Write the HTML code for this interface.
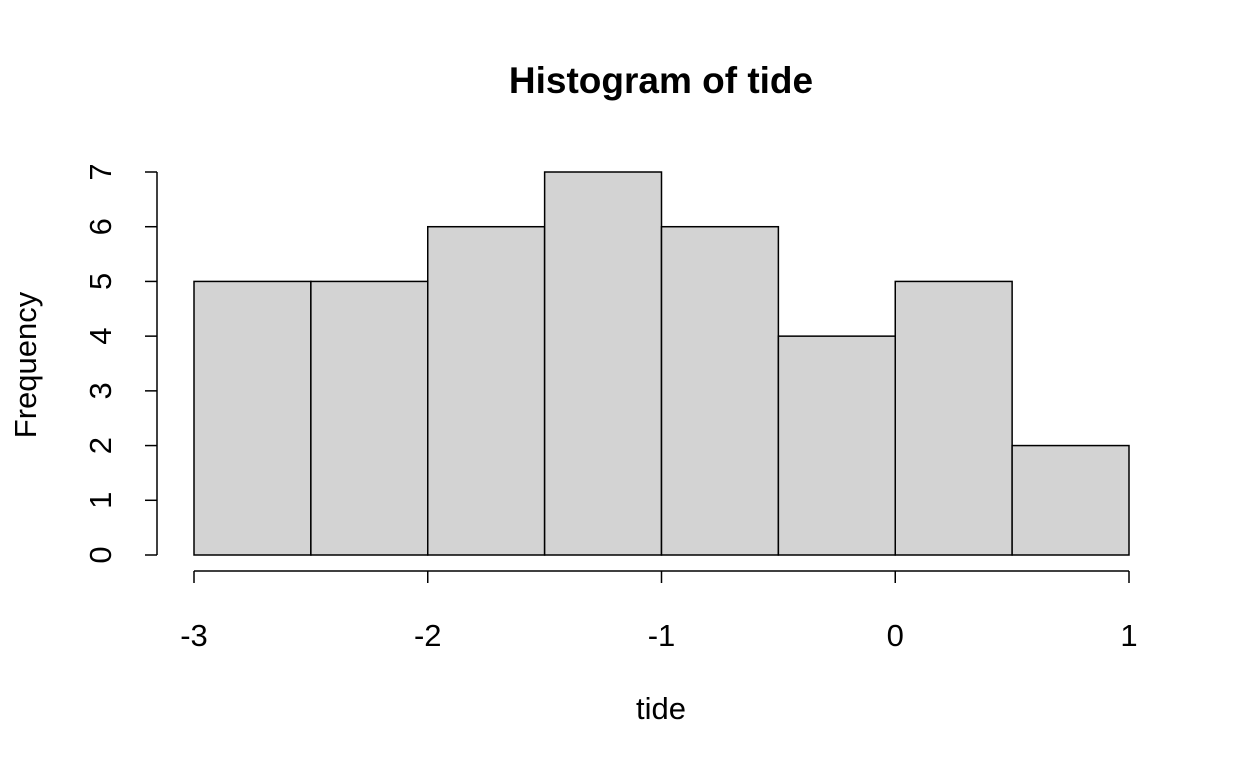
<!DOCTYPE html>
<html><head><meta charset="utf-8">
<style>
html,body{margin:0;padding:0;background:#fff;}
svg{display:block;font-family:"Liberation Sans",Arial,sans-serif;}
</style></head>
<body>
<svg id="chart" width="1248" height="768" viewBox="0 0 1248 768">
<text x="661" y="93" text-anchor="middle" font-size="37" font-weight="bold">Histogram of tide</text>
<text x="661" y="719" text-anchor="middle" font-size="31">tide</text>
<text transform="translate(36,365) rotate(-90)" text-anchor="middle" font-size="31">Frequency</text>
<g id="bars"></g>
<g id="xaxis"></g>
<g id="yaxis"></g>
</svg>
<script>
const binEdges = [-3, -2.5, -2, -1.5, -1, -0.5, 0, 0.5, 1];
const counts = [5, 5, 6, 7, 6, 4, 5, 2];
const xTicks = [-3, -2, -1, 0, 1];
const yTicks = [0, 1, 2, 3, 4, 5, 6, 7];

const NS = "http://www.w3.org/2000/svg";
const xs = v => 194 + (v - (-3)) * (1129 - 194) / 4;
const ys = v => 555 - v * (555 - 172) / 7;
function mk(tag, attrs, parent) {
  const e = document.createElementNS(NS, tag);
  for (const k in attrs) e.setAttribute(k, attrs[k]);
  parent.appendChild(e);
  return e;
}
const bars = document.getElementById('bars');
counts.forEach((c, i) => {
  const x0 = xs(binEdges[i]), x1 = xs(binEdges[i + 1]);
  const r = mk('rect', {x: x0, y: ys(c), width: x1 - x0, height: ys(0) - ys(c), fill: '#d3d3d3', stroke: '#000', 'stroke-width': 1.5}, bars);
  
  
});
const xa = document.getElementById('xaxis');
mk('line', {x1: xs(xTicks[0]), x2: xs(xTicks[xTicks.length - 1]), y1: 571, y2: 571, stroke: '#000', 'stroke-width': 1.5}, xa);
xTicks.forEach(t => {
  mk('line', {x1: xs(t), x2: xs(t), y1: 571, y2: 583, stroke: '#000', 'stroke-width': 1.5}, xa);
  const l = mk('text', {x: xs(t), y: 646, 'text-anchor': 'middle', 'font-size': 31}, xa);
  l.textContent = t;
  
  
});
const ya = document.getElementById('yaxis');
mk('line', {x1: 157, x2: 157, y1: ys(yTicks[0]), y2: ys(yTicks[yTicks.length - 1]), stroke: '#000', 'stroke-width': 1.5}, ya);
yTicks.forEach(t => {
  mk('line', {x1: 145, x2: 157, y1: ys(t), y2: ys(t), stroke: '#000', 'stroke-width': 1.5}, ya);
  const l = mk('text', {transform: `translate(111,${ys(t)}) rotate(-90)`, 'text-anchor': 'middle', 'font-size': 31}, ya);
  l.textContent = t;
  
  
});
</script>
</body></html>
